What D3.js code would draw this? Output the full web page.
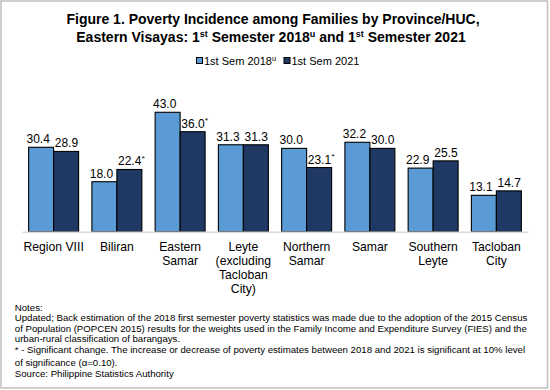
<!DOCTYPE html>
<html>
<head>
<meta charset="utf-8">
<script src="https://cdn.jsdelivr.net/npm/d3@7"></script>
<style>
  html, body { margin: 0; padding: 0; background: #fff; }
  svg { display: block; font-family: Arial, "Liberation Sans", sans-serif; }
</style>
</head>
<body>
<svg id="chart" width="550" height="390"></svg>
<script>
const categories = ["Region VIII", "Biliran", "Eastern\nSamar", "Leyte\n(excluding\nTacloban\nCity)", "Northern\nSamar", "Samar", "Southern\nLeyte", "Tacloban\nCity"];
const sem2018 = [30.4, 18.0, 43.0, 31.3, 30.0, 32.2, 22.9, 13.1];
const sem2021 = [28.9, 22.4, 36.0, 31.3, 23.1, 30.0, 25.5, 14.7];
const significant2021 = [false, true, true, false, true, false, false, false];
const seriesNames = ["1st Sem 2018", "1st Sem 2021"];
const seriesSup = ["u", ""];
const seriesColors = ["#5B9BD5", "#1F3864"];
const notes = [
  "Notes:",
  "Updated; Back estimation of the 2018 first semester poverty statistics was made due to the adoption of the 2015 Census",
  "of Population (POPCEN 2015) results for the weights used in the Family Income and Expenditure Survey (FIES) and the",
  "urban-rural classification of barangays.",
  "* - Significant change. The increase or decrease of poverty estimates between 2018 and 2021 is significant at 10% level",
  "of significance (\u03B1=0.10).",
  "Source: Philippine Statistics Authority"
];

const svg = d3.select("#chart");

// border
svg.append("rect").attr("x", 1).attr("y", 1).attr("width", 546.5).attr("height", 387)
  .attr("fill", "#fff").attr("stroke", "#BFBFBF").attr("stroke-width", 1.5);

// title
const title = svg.append("g").attr("font-weight", "bold").attr("font-size", 14).attr("fill", "#000").attr("text-anchor", "middle");
title.append("text").attr("x", 273).attr("y", 24).text("Figure 1. Poverty Incidence among Families by Province/HUC,");
const t2 = title.append("text").attr("x", 271).attr("y", 41.5);
t2.append("tspan").text("Eastern Visayas: 1");
t2.append("tspan").attr("font-size", 9).attr("dy", -5).text("st");
t2.append("tspan").attr("dy", 5).text(" Semester 2018");
t2.append("tspan").attr("font-size", 9).attr("dy", -5).text("u");
t2.append("tspan").attr("dy", 5).text(" and 1");
t2.append("tspan").attr("font-size", 9).attr("dy", -5).text("st");
t2.append("tspan").attr("dy", 5).text(" Semester 2021");

// legend
const legendX = [196, 283.5];
seriesNames.forEach((name, i) => {
  const g = svg.append("g").attr("transform", `translate(${legendX[i]},0)`);
  g.append("rect").attr("x", 0.5).attr("y", 57.5).attr("width", 6).attr("height", 6)
    .attr("fill", seriesColors[i]).attr("stroke", "#000").attr("stroke-width", 1);
  const t = g.append("text").attr("x", 8).attr("y", 64.5).attr("font-size", 11).attr("fill", "#000");
  t.append("tspan").text(name);
  if (seriesSup[i]) t.append("tspan").attr("font-size", 7.5).attr("dy", -4).text(seriesSup[i]);
});

// scales
const x = d3.scaleBand().domain(categories).range([22, 528]).paddingInner(0.21).paddingOuter(0.105);
const xs = d3.scaleBand().domain([0, 1]).range([0, x.bandwidth()]);
const y = d3.scaleLinear().domain([0, 50]).range([231.7, 92.85]);

const series = [sem2018, sem2021];

// bars
const groups = svg.append("g").selectAll("g").data(categories).join("g")
  .attr("transform", d => `translate(${x(d)},0)`);

groups.each(function(cat, ci) {
  const g = d3.select(this);
  series.forEach((vals, si) => {
    const v = vals[ci];
    g.append("rect")
      .attr("x", xs(si)).attr("y", y(v))
      .attr("width", xs.bandwidth()).attr("height", y(0) - y(v))
      .attr("fill", seriesColors[si]).attr("stroke", "#000").attr("stroke-width", 1.1);
  });
});

// axis
const axis = d3.axisBottom(x).tickSize(0).tickPadding(0);
const ax = svg.append("g").attr("transform", `translate(0,${y(0)})`).call(axis);
ax.select(".domain").attr("stroke", "#D9D9D9").attr("stroke-width", 1.5);
ax.selectAll(".tick text")
  .attr("font-size", 12.2).attr("font-family", "Arial, 'Liberation Sans', sans-serif").attr("fill", "#000")
  .attr("y", 19.3).attr("dy", null)
  .each(function(d) {
    const t = d3.select(this);
    const lines = d.split("\n");
    t.text(null);
    lines.forEach((ln, i) => {
      t.append("tspan").attr("x", 0).attr("dy", i === 0 ? 0 : 14).text(ln);
    });
  });

// value labels
const labelShift = [-3, 0.3];
groups.each(function(cat, ci) {
  const g = d3.select(this);
  series.forEach((vals, si) => {
    const v = vals[ci];
    const cx = xs(si) + xs.bandwidth() / 2 + labelShift[si];
    const t = g.append("text").attr("x", cx).attr("y", y(v) - 4)
      .attr("text-anchor", "middle").attr("font-size", 12).attr("fill", "#000")
      .text(v.toFixed(1));
    if (si === 1 && significant2021[ci]) {
      const w = t.node().getComputedTextLength();
      g.append("text").attr("x", cx + w / 2 + 0.5).attr("y", y(v) - 8.5)
        .attr("font-size", 8).attr("fill", "#000").text("*");
    }
  });
});

// notes
const noteY = [311, 321.4, 331.9, 342, 352.5, 366, 377];
const notesG = svg.append("g").attr("font-size", 9.8).attr("fill", "#000");
const noteEls = notes.map((ln, i) => notesG.append("text").attr("x", 14.8).attr("y", noteY[i]).text(ln));
// fit font so the longest note line spans the same width as in the reference
const measured = noteEls[1].node().getComputedTextLength();
notesG.attr("font-size", 9.8 * 513.5 / measured);
</script>
</body>
</html>
